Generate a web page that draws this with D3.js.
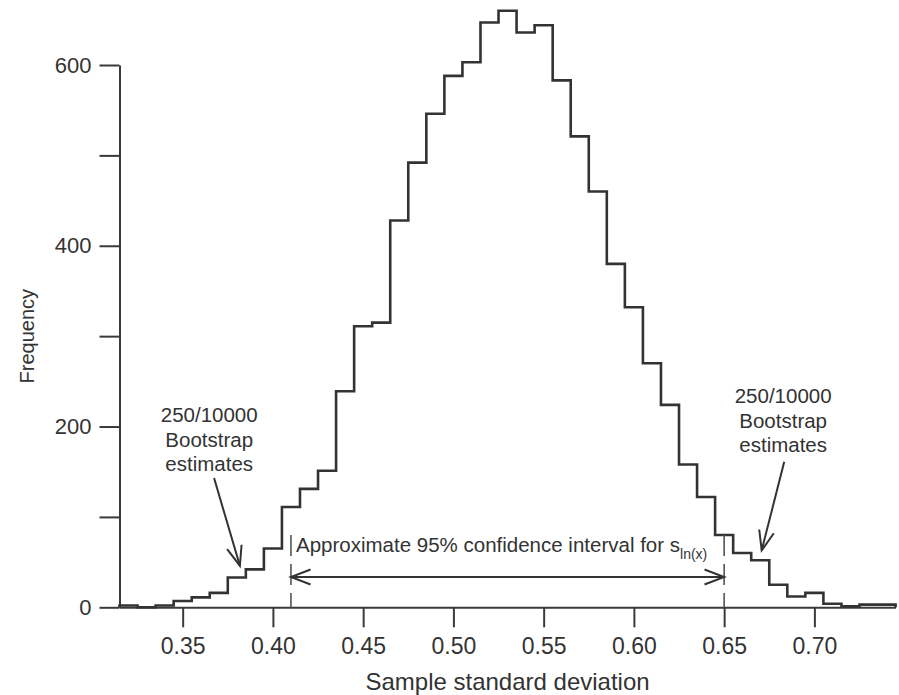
<!DOCTYPE html>
<html lang="en">
<head>
<meta charset="UTF-8">
<title>Bootstrap estimates of sample standard deviation</title>
<script src="https://cdn.jsdelivr.net/npm/d3@7"></script>
<style>
body{margin:0;background:#fff;}
svg{display:block;font-family:"Liberation Sans",Arial,Helvetica,sans-serif;}
.axis path,.axis line{stroke:#3a3a3a;stroke-width:2;}
.axis text{fill:#333;}
.note{fill:#333;}
</style>
</head>
<body>
<svg id="chart" width="899" height="695"></svg>
<script>
// histogram: bin edges and frequency per bin
const binEdges = [0.315,0.325,0.335,0.345,0.355,0.365,0.375,0.385,0.395,0.405,
  0.415,0.425,0.435,0.445,0.455,0.465,0.475,0.485,0.495,0.505,
  0.515,0.525,0.535,0.545,0.555,0.565,0.575,0.585,0.595,0.605,
  0.615,0.625,0.635,0.645,0.655,0.665,0.675,0.685,0.695,0.705,
  0.715,0.725,0.735,0.745];
const counts = [2,0,2,7,11,16,33,42,65,111,
  131,151,239,311,315,428,492,546,588,603,
  647,660,636,644,583,521,460,380,332,270,
  224,158,122,80,60,52,25,12,16,4,
  1,3,3];
const xTicks = [0.35,0.40,0.45,0.50,0.55,0.60,0.65,0.70];
const yTicks = [0,100,200,300,400,500,600];
const yLabelled = [0,200,400,600];
const ciBounds = [0.41,0.65];
const noteLines = ['250/10000','Bootstrap','estimates'];

const svg = d3.select('#chart');
const x = d3.scaleLinear().domain([0.315,0.745]).range([119.5,895.6]);
const y = d3.scaleLinear().domain([0,600]).range([607.3,65]);
const ink = '#333';

// axes
const xAxis = svg.append('g').attr('class','axis')
  .attr('transform','translate(0,'+y(0)+')')
  .call(d3.axisBottom(x).tickValues(xTicks).tickFormat(d3.format('.2f'))
    .tickSize(20).tickSizeOuter(0).tickPadding(10));
xAxis.attr('font-size',23).attr('font-family',null);

const yAxis = svg.append('g').attr('class','axis')
  .attr('transform','translate('+x(0.315)+',0)')
  .call(d3.axisLeft(y).tickValues(yTicks).tickFormat(d => yLabelled.includes(d) ? d : '')
    .tickSize(20).tickSizeOuter(0).tickPadding(8));
yAxis.attr('font-size',22).attr('font-family',null);

svg.append('text').attr('x',(x.range()[0]+x.range()[1])/2).attr('y',690)
  .attr('text-anchor','middle').attr('font-size',24).attr('fill',ink)
  .text('Sample standard deviation');
svg.append('text').attr('transform','translate(34,'+((y(0)+y(600))/2)+') rotate(-90)')
  .attr('text-anchor','middle').attr('font-size',20).attr('fill',ink)
  .text('Frequency');

// histogram outline
const pts = [[binEdges[0],0]];
counts.forEach((c,i) => pts.push([binEdges[i],c]));
pts.push([binEdges[counts.length],counts[counts.length-1]]);
pts.push([binEdges[counts.length],0]);
const step = d3.line().x(d => x(d[0])).y(d => y(d[1])).curve(d3.curveStepAfter);
svg.append('path').datum(pts).attr('d',step)
  .attr('fill','none').attr('stroke',ink).attr('stroke-width',2.6);

// confidence interval marks
svg.selectAll('.ci').data(ciBounds).enter().append('line')
  .attr('x1',d => x(d)).attr('x2',d => x(d))
  .attr('y1',y(80)).attr('y2',y(0))
  .attr('stroke','#555').attr('stroke-width',1.6).attr('stroke-dasharray','21,8');

function head(tx,ty,fx,fy){
  // open arrow head at (tx,ty) pointing away from (fx,fy)
  const a = Math.atan2(fy-ty,fx-tx), len = 21, sp = 21*Math.PI/180;
  const p1 = [tx+len*Math.cos(a+sp),ty+len*Math.sin(a+sp)];
  const p2 = [tx+len*Math.cos(a-sp),ty+len*Math.sin(a-sp)];
  svg.append('path').attr('d','M'+p1+'L'+tx+','+ty+'L'+p2)
    .attr('fill','none').attr('stroke',ink).attr('stroke-width',2);
}
function arrow(fx,fy,tx,ty){
  svg.append('line').attr('x1',fx).attr('y1',fy).attr('x2',tx).attr('y2',ty)
    .attr('stroke',ink).attr('stroke-width',2);
  head(tx,ty,fx,fy);
}

const ay = y(33.5);
svg.append('line').attr('x1',x(ciBounds[0])).attr('x2',x(ciBounds[1]))
  .attr('y1',ay).attr('y2',ay).attr('stroke',ink).attr('stroke-width',2);
head(x(ciBounds[0]),ay,x(ciBounds[1]),ay);
head(x(ciBounds[1]),ay,x(ciBounds[0]),ay);

const ciText = svg.append('text').attr('class','note')
  .attr('x',x(0.4128)).attr('y',y(61)).attr('font-size',20.5);
ciText.append('tspan').text('Approximate 95% confidence interval for s');
ciText.append('tspan').attr('font-size',14).attr('dy',7).text('ln(x)');

// bootstrap tail notes
function note(cx,cy){
  svg.append('text').attr('class','note').attr('text-anchor','middle').attr('font-size',20.5)
    .selectAll('tspan').data(noteLines).enter().append('tspan')
    .attr('x',x(cx)).attr('y',(d,i) => y(cy)+i*24.5).text(d => d);
}
note(0.3647,205);
note(0.6827,226);
arrow(x(0.3674),y(143),x(0.3817),y(46));
arrow(x(0.6833),y(161),x(0.6708),y(63));
</script>
</body>
</html>
